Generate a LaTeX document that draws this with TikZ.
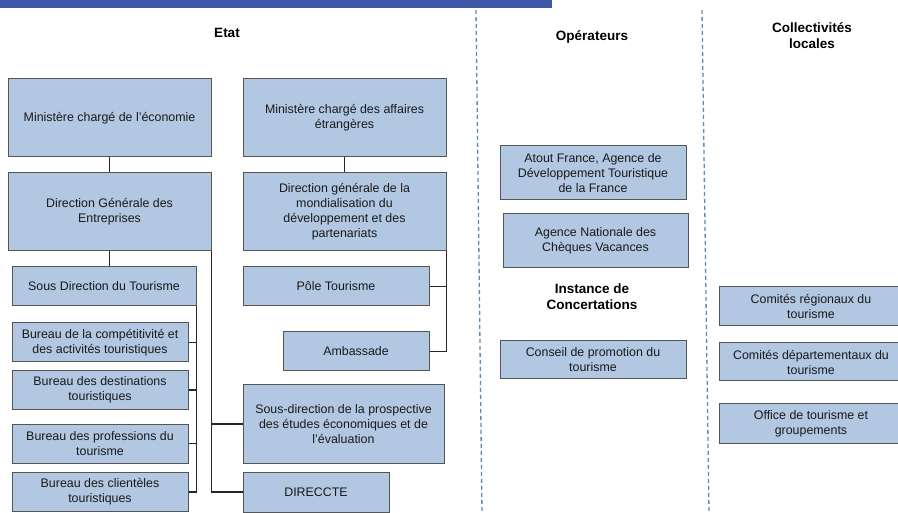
\documentclass[tikz,border=0pt]{standalone}
\usepackage{fontspec}
\setmainfont{Liberation Sans}
\definecolor{boxfill}{RGB}{178,199,226}
\definecolor{boxline}{RGB}{85,85,85}
\definecolor{banner}{RGB}{63,87,167}
\definecolor{dashc}{RGB}{90,140,185}
\tikzset{
  bx/.style={draw=boxline, line width=1pt, fill=boxfill, align=center, inner sep=2pt,
    font=\fontsize{12.4}{15}\selectfont, text=black!90},
  head/.style={align=center, font=\fontsize{13.5}{16}\selectfont\bfseries},
  conn/.style={draw=black!85, line width=1.4pt},
  sep/.style={draw=dashc, line width=1.3pt, dash pattern=on 4pt off 3pt}
}
\begin{document}
\begin{tikzpicture}[x=1pt,y=-1pt]
\useasboundingbox (0,0) rectangle (898,513);
\clip (0,0) rectangle (898,513);
\fill[banner] (0,0) rectangle (552,8);
% separators
\draw[sep] (476,10) -- (482,513);
\draw[sep] (702,10) -- (709,513);
% headings
\node[head] (hetat) at (227,33) {Etat};
\node[head] (hop) at (592,37) {Opérateurs};
\node[head] (hcol) at (812,35.5) {Collectivités\\locales};
\node[head] (hinst) at (592,297) {Instance de\\Concertations};
% Etat boxes
\node[bx, minimum width=203pt, minimum height=78pt] (eco) at (109.5,118) {Ministère chargé de l'économie};
\node[bx, minimum width=203pt, minimum height=78pt] (aff) at (344.5,118) {Ministère chargé des affaires\\étrangères};
\node[bx, minimum width=203pt, minimum height=78pt] (dge) at (109.5,212) {Direction Générale des\\Entreprises};
\node[bx, minimum width=203pt, minimum height=78pt] (dgm) at (344.5,212) {Direction générale de la\\mondialisation du\\développement et des\\partenariats};
\node[bx, minimum width=184pt, minimum height=39pt] (sdt) at (104,286.5) {Sous Direction du Tourisme};
\node[bx, minimum width=176pt, minimum height=39pt] (b1) at (100,342.5) {Bureau de la compétitivité et\\des activités touristiques};
\node[bx, minimum width=176pt, minimum height=38pt] (b2) at (100,390) {Bureau des destinations\\touristiques};
\node[bx, minimum width=176pt, minimum height=39pt] (b3) at (100,443.5) {Bureau des professions du\\tourisme};
\node[bx, minimum width=176pt, minimum height=39pt] (b4) at (100,492) {Bureau des clientèles\\touristiques};
\node[bx, minimum width=186pt, minimum height=39pt] (pole) at (336,286.5) {Pôle Tourisme};
\node[bx, minimum width=146pt, minimum height=39pt] (amb) at (356,351.5) {Ambassade};
\node[bx, minimum width=201pt, minimum height=78pt] (sdp) at (343.5,424) {Sous-direction de la prospective\\des études économiques et de\\l'évaluation};
\node[bx, minimum width=146pt, minimum height=40pt] (dir) at (316,492) {DIRECCTE};
% Opérateurs
\node[bx, minimum width=186pt, minimum height=54pt] (atout) at (593,173) {Atout France, Agence de\\Développement Touristique\\de la France};
\node[bx, minimum width=185pt, minimum height=54pt] (ancv) at (595.5,241) {Agence Nationale des\\Chèques Vacances};
\node[bx, minimum width=186pt, minimum height=38pt] (cpt) at (593,360) {Conseil de promotion du\\tourisme};
% Collectivités
\node[bx, minimum width=184pt, minimum height=39pt] (crt) at (811,306.5) {Comités régionaux du\\tourisme};
\node[bx, minimum width=184pt, minimum height=38pt] (cdt) at (811,362) {Comités départementaux du\\tourisme};
\node[bx, minimum width=184pt, minimum height=39pt] (ot) at (811,423.5) {Office de tourisme et\\groupements};
% connectors
\draw[conn] (eco) -- (dge);
\draw[conn] (aff) -- (dgm);
\draw[conn] (dge.south) -- (dge.south |- sdt.north);
\draw[conn] (dge.south east) |- (dir.west);
\draw[conn] (dge.south east |- sdp.west) -- (sdp.west);
\draw[conn] (sdt.south east) |- (b4.east);
\draw[conn] (b1.east) -- (b1.east -| sdt.south east);
\draw[conn] (b2.east) -- (b2.east -| sdt.south east);
\draw[conn] (b3.east) -- (b3.east -| sdt.south east);
\draw[conn] (dgm.south east) |- (amb.east);
\draw[conn] (pole.east) -- (pole.east -| dgm.south east);
\end{tikzpicture}
\end{document}
